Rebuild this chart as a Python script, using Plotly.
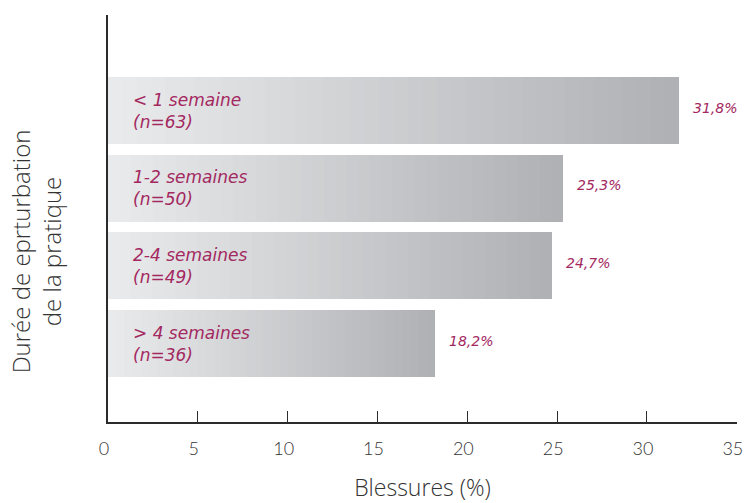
import plotly.graph_objects as go

categories = ["< 1 semaine", "1-2 semaines", "2-4 semaines", "> 4 semaines"]
counts = ["(n=63)", "(n=50)", "(n=49)", "(n=36)"]
values = [31.8, 25.3, 24.7, 18.2]
value_labels = ["31,8%", "25,3%", "24,7%", "18,2%"]
x_ticks = [0, 5, 10, 15, 20, 25, 30, 35]

MAGENTA = "#a3285f"
AXIS = "#2b2b2b"
LABELFONT = "DejaVu Sans"
TITLEFONT = "Open Sans"
TICKFONT = "Lato"

pos = list(range(len(categories)))[::-1]  # first category at top

N = 40
c0 = (0xEA, 0xEB, 0xEC)
c1 = (0xAF, 0xB0, 0xB4)

fig = go.Figure()
for i in range(N):
    t = (i + 0.5) / N
    col = "rgb(%d,%d,%d)" % tuple(round(a + (b - a) * t) for a, b in zip(c0, c1))
    fig.add_trace(go.Bar(
        y=pos,
        x=[v / N for v in values],
        orientation="h",
        width=0.86,
        marker=dict(color=col, line=dict(width=0)),
        showlegend=False,
        hoverinfo="skip",
    ))

for p, cat, cnt, v, vl in zip(pos, categories, counts, values, value_labels):
    fig.add_annotation(x=0, y=p, text=cat + "<br>" + cnt, xref="x", yref="y",
                       xanchor="left", yanchor="middle", align="left",
                       xshift=23, yshift=0, showarrow=False,
                       font=dict(family=LABELFONT, size=17, color=MAGENTA, style="italic"))
    fig.add_annotation(x=v, y=p, text=vl, xref="x", yref="y", xanchor="left",
                       yanchor="middle", xshift=12, yshift=3, showarrow=False,
                       font=dict(family=LABELFONT, size=14, color=MAGENTA, style="italic"))

fig.add_annotation(x=-0.114, y=0.42, xref="paper", yref="paper", textangle=-90,
                   text="Durée de eprturbation<br>de la pratique", showarrow=False,
                   xanchor="center", yanchor="middle", align="center",
                   font=dict(family=TITLEFONT, size=24, color="#333333", weight=300))

fig.update_layout(
    width=744, height=503,
    margin=dict(l=108, r=7, t=15, b=81, autoexpand=False),
    paper_bgcolor="white", plot_bgcolor="white",
    barmode="stack", bargap=0,
    xaxis=dict(range=[0, 35.01], tickvals=x_ticks, ticktext=[str(t) for t in x_ticks],
               automargin=False,
               showgrid=False, zeroline=False, showline=True, linecolor=AXIS,
               linewidth=1.5, ticks="inside", ticklen=11, tickcolor=AXIS, tickwidth=1,
               ticklabeloverflow="allow", ticklabelstandoff=10, ticklabelshift=-4,
               tickfont=dict(family=TICKFONT, size=18, color="#333333", weight=300),
               title=dict(text="Blessures (%)", standoff=26,
                          font=dict(family=TITLEFONT, size=23, color="#333333", weight=300))),
    yaxis=dict(range=[-1.01, 4.23], showticklabels=False, showgrid=False,
               automargin=False,
               zeroline=False, showline=True, linecolor=AXIS, linewidth=1.5,
               ticks=""),
)

fig.write_html("out.html")
